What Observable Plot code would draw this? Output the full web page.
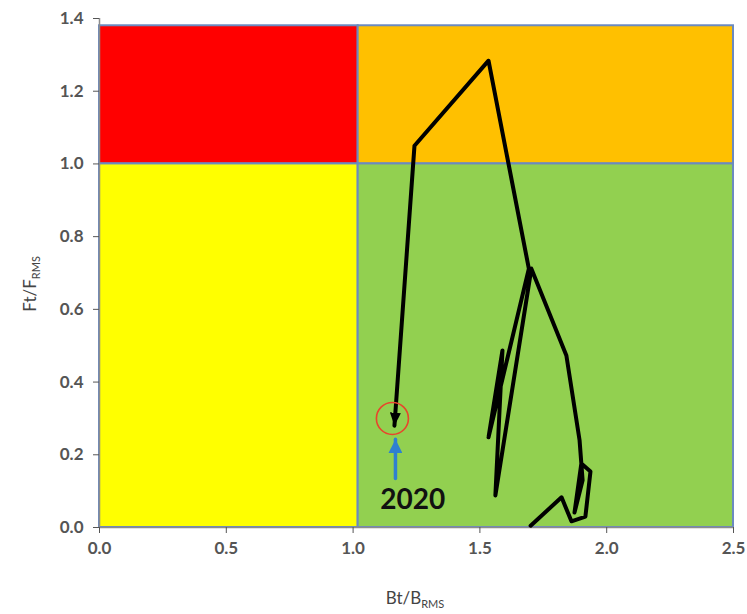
<!DOCTYPE html>
<html>
<head>
<meta charset="utf-8">
<script src="https://cdn.jsdelivr.net/npm/d3@7"></script>
<script src="https://cdn.jsdelivr.net/npm/@observablehq/plot@0.6"></script>
<style>
  html, body { margin: 0; padding: 0; background: #fff; }
  #chart svg { display: block; }
</style>
</head>
<body>
<div id="chart"></div>
<script>
// Zone rectangles (Kobe-style quadrants)
const zoneX1 = [0, 1.02, 0, 1.02];
const zoneX2 = [1.02, 2.5, 1.02, 2.5];
const zoneY1 = [1.0, 1.0, 0, 0];
const zoneY2 = [1.38, 1.38, 1.0, 1.0];
const zoneColor = ["#ff0000", "#ffc000", "#ffff00", "#92d050"];

// Trajectory Bt/Bmsy vs Ft/Fmsy, in time order, ending at 2020
const bt = [1.70, 1.822, 1.861, 1.916, 1.936, 1.900, 1.873, 1.905, 1.893, 1.841, 1.703, 1.561, 1.589, 1.534, 1.693, 1.534, 1.242, 1.163];
const ft = [0.005, 0.083, 0.017, 0.030, 0.154, 0.176, 0.041, 0.130, 0.240, 0.473, 0.712, 0.088, 0.487, 0.248, 0.712, 1.284, 1.050, 0.280];

// Annotation
const circleX = [1.155], circleY = [0.300];
const pointerX = [1.167, 1.167], pointerY = [0.135, 0.243];
const yearLabel = ["2020"], yearX = [1.235], yearY = [0.075];

const xTicks = [0, 0.5, 1.0, 1.5, 2.0, 2.5];
const yTicks = [0, 0.2, 0.4, 0.6, 0.8, 1.0, 1.2, 1.4];

const zones = zoneX1.map((d, i) => ({x1: d, x2: zoneX2[i], y1: zoneY1[i], y2: zoneY2[i], c: zoneColor[i]}));
const traj = bt.map((d, i) => ({x: d, y: ft[i]}));
const pointer = pointerX.map((d, i) => ({x: d, y: pointerY[i]}));

const font = "Lato, 'Open Sans', sans-serif";

const plot = Plot.plot({
  width: 747,
  height: 614,
  marginLeft: 99,
  marginRight: 14,
  marginTop: 18,
  marginBottom: 87,
  style: {fontFamily: font, background: "#fff"},
  x: {domain: [0, 2.5], label: null},
  y: {domain: [0, 1.4], label: null},
  marks: [
    Plot.rect(zones, {x1: "x1", x2: "x2", y1: "y1", y2: "y2", fill: "c", stroke: "#6b8ac0", strokeWidth: 2}),
    Plot.ruleX([0], {stroke: "#8c8c8c", strokeWidth: 1.5}),
    Plot.ruleY([0], {stroke: "#8c8c8c", strokeWidth: 1.5}),
    Plot.axisX({ticks: xTicks, tickFormat: d3.format(".1f"), tickSize: 6, tickPadding: 8, fontSize: 17, fontWeight: "bold", fill: "#555", stroke: "#555", tickStrokeWidth: 1.5}),
    Plot.axisY({ticks: yTicks, tickFormat: d3.format(".1f"), tickSize: 6, tickPadding: 10, fontSize: 17, fontWeight: "bold", fill: "#555", stroke: "#555"}),
    Plot.line(traj, {x: "x", y: "y", stroke: "#000", strokeWidth: 4, strokeLinejoin: "round", className: "traj"}),
    Plot.dot({length: 1}, {x: circleX, y: circleY, r: 16, stroke: "#e8452c", strokeWidth: 1.6, fill: "none"}),
    Plot.line(pointer, {x: "x", y: "y", stroke: "#2f80d0", strokeWidth: 3.5, className: "pointer"}),
    Plot.text(yearLabel, {x: yearX, y: yearY, text: d => d, fontSize: 28, fontWeight: "bold", fill: "#111"})
  ]
});

// Filled arrowheads on the trajectory end and the pointer
const svg = d3.select(plot);
const defs = svg.insert("defs", ":first-child");
function addMarker(id, color, w, h) {
  defs.append("marker")
    .attr("id", id)
    .attr("viewBox", `0 0 ${w} ${h}`)
    .attr("refX", w).attr("refY", h / 2)
    .attr("markerWidth", w).attr("markerHeight", h)
    .attr("markerUnits", "userSpaceOnUse")
    .attr("orient", "auto")
    .append("path")
    .attr("d", `M0,0L${w},${h / 2}L0,${h}Z`)
    .attr("fill", color);
}
addMarker("arrowBlack", "#000", 13, 11);
addMarker("arrowBlue", "#2f80d0", 14, 14);
svg.selectAll(".traj path").attr("marker-end", "url(#arrowBlack)");
svg.selectAll(".pointer path").attr("marker-end", "url(#arrowBlue)");

// Axis titles with subscripts
function title(x, y, main, sub, rotate) {
  const t = svg.append("text")
    .attr("x", x).attr("y", y)
    .attr("text-anchor", "middle")
    .attr("font-family", font)
    .attr("font-size", 17)
    .attr("fill", "#444");
  if (rotate) t.attr("transform", `rotate(-90 ${x} ${y})`);
  t.append("tspan").text(main);
  t.append("tspan").attr("font-size", 11).attr("dy", 4).text(sub);
}
title(415, 604, "Bt/B", "RMS", false);
title(36, 284, "Ft/F", "RMS", true);

document.getElementById("chart").appendChild(plot);
</script>
</body>
</html>
